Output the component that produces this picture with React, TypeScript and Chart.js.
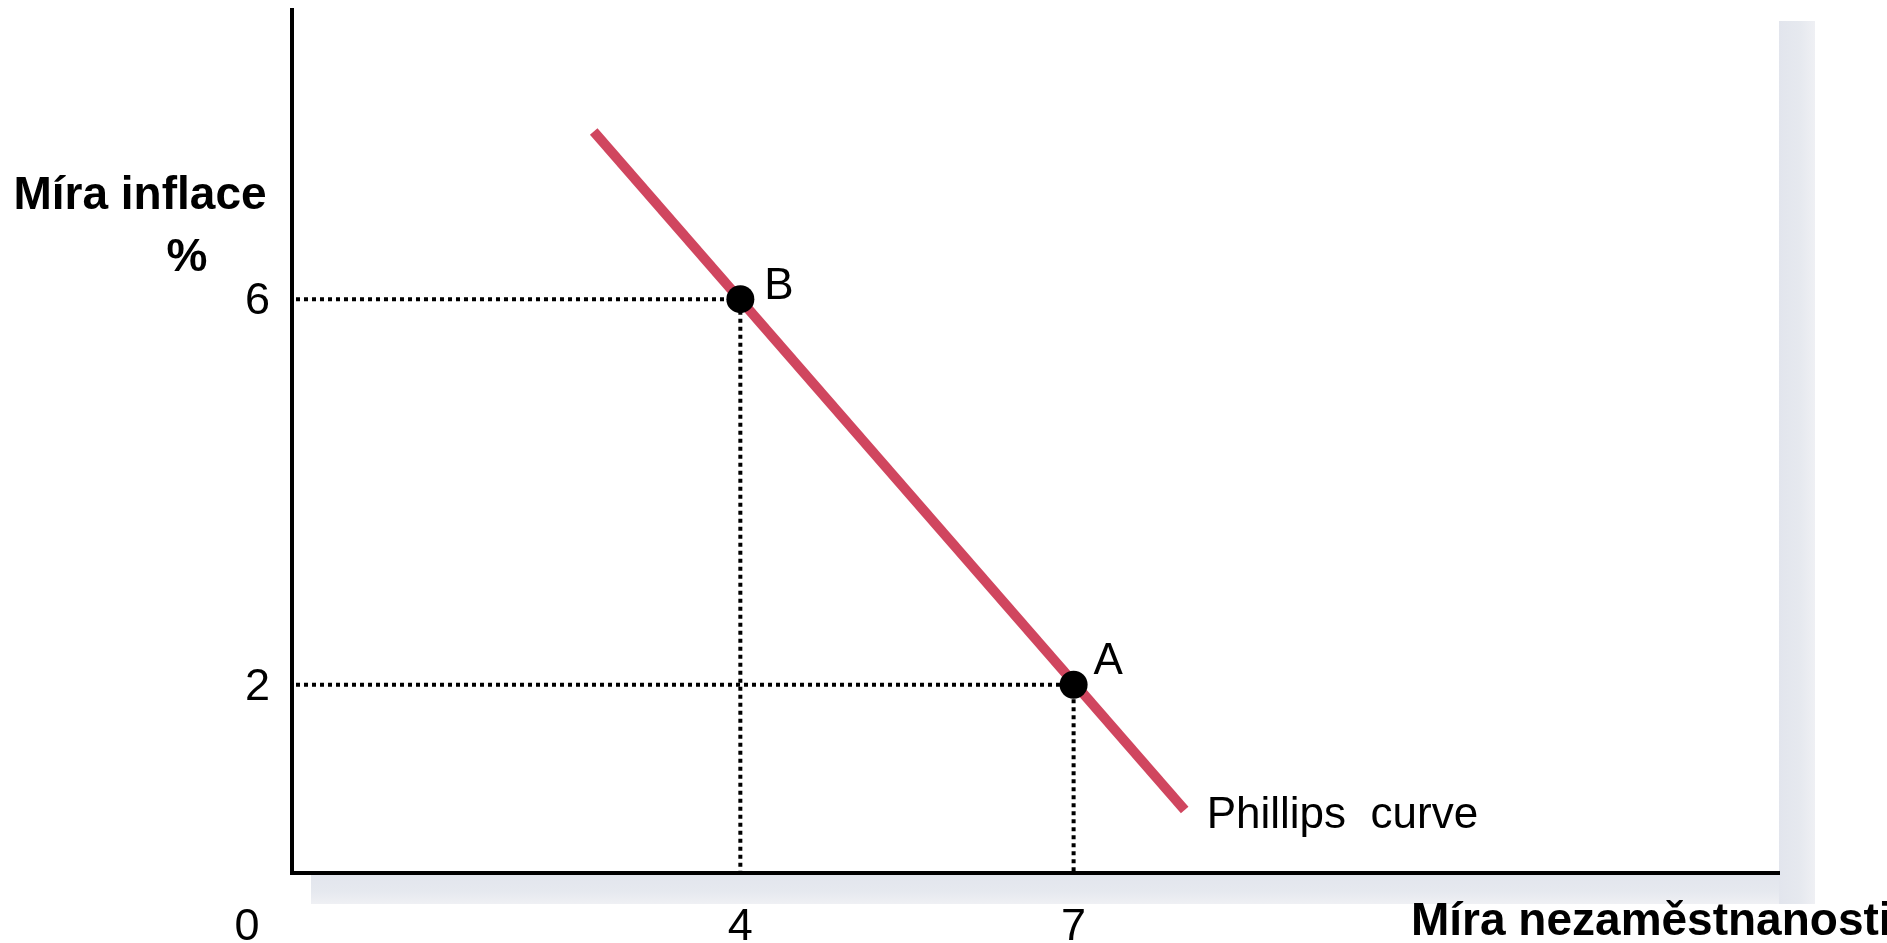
import React, { useEffect, useRef } from "react";
import { Chart, registerables } from "chart.js";

Chart.register(...registerables);

// ---- data ----
const curveX = [2.68, 8.0];
const curveY = [7.74, 0.7];
const pointNames = ["B", "A"];
const pointX = [4, 7];
const pointY = [6, 2];
const xTickValues = [4, 7];
const yTickValues = [2, 6];
const originLabel = "0";
const yTitleLines = ["Míra inflace", "%"];
const xTitle = "Míra nezaměstnanosti";
const curveLabel = "Phillips  curve";

const X_MIN = -0.036;
const X_MAX = 13.35;
const Y_MIN = 0.047;
const Y_MAX = 9.0;

const FONT = '"Liberation Sans", Arial, sans-serif';

const overlayPlugin = {
  id: "overlay",
  beforeDraw(chart: any) {
    const { ctx, chartArea: a } = chart;
    ctx.save();
    const gR = ctx.createLinearGradient(a.right, 0, a.right + 36, 0);
    gR.addColorStop(0, "#e2e5ed");
    gR.addColorStop(0.6, "#e6e9ef");
    gR.addColorStop(1, "#eff0f4");
    ctx.fillStyle = gR;
    ctx.fillRect(a.right, a.top + 11, 36, a.bottom - a.top - 11 + 31);
    const gB = ctx.createLinearGradient(0, a.bottom, 0, a.bottom + 31);
    gB.addColorStop(0, "#e2e5ed");
    gB.addColorStop(0.6, "#e6e9ef");
    gB.addColorStop(1, "#eff0f4");
    ctx.fillStyle = gB;
    ctx.fillRect(a.left + 19, a.bottom, a.right - a.left - 19, 31);
    ctx.restore();
  },
  afterDraw(chart: any) {
    const { ctx, chartArea: a, scales } = chart;
    const xs = scales.x;
    const ys = scales.y;
    ctx.save();
    ctx.fillStyle = "#000";
    ctx.font = `45px ${FONT}`;
    ctx.textBaseline = "alphabetic";
    ctx.textAlign = "center";
    xTickValues.forEach((v) => {
      ctx.fillText(String(v), xs.getPixelForValue(v), a.bottom + 67);
    });
    ctx.fillText(originLabel, a.left - 45, a.bottom + 67);
    ctx.textAlign = "right";
    yTickValues.forEach((v) => {
      ctx.fillText(String(v), a.left - 22, ys.getPixelForValue(v) + 15);
    });
    ctx.font = `44px ${FONT}`;
    ctx.textAlign = "left";
    const offs = [
      [24, 0],
      [20, -11],
    ];
    pointNames.forEach((n, i) => {
      const px = xs.getPixelForValue(pointX[i]);
      const py = ys.getPixelForValue(pointY[i]);
      ctx.fillText(n, px + offs[i][0], py + offs[i][1]);
    });
    const ex = xs.getPixelForValue(curveX[1]);
    const ey = ys.getPixelForValue(curveY[1]);
    ctx.fillText(curveLabel, ex + 22, ey + 18);
    ctx.font = `bold 46px ${FONT}`;
    ctx.textAlign = "center";
    ctx.fillText(yTitleLines[0], 140, 209);
    ctx.fillText(yTitleLines[1], 187, 271);
    ctx.font = `bold 46px ${FONT}`;
    ctx.textAlign = "left";
    ctx.fillText(xTitle, 1411, 935);
    ctx.restore();
  },
};

export default function App() {
  const ref = useRef<HTMLCanvasElement | null>(null);
  useEffect(() => {
    if (!ref.current) return;
    const guides = pointX.map((x, i) => ({
      data: [
        { x: 0, y: pointY[i] },
        { x, y: pointY[i] },
        { x, y: Y_MIN },
      ],
      showLine: true,
      borderColor: "#000",
      borderWidth: 4,
      borderDash: [4, 4],
      pointRadius: 0,
      order: 3,
    }));
    const chart = new Chart(ref.current, {
      type: "scatter",
      data: {
        datasets: [
          {
            data: pointX.map((x, i) => ({ x, y: pointY[i] })),
            showLine: false,
            pointRadius: 14,
            pointBackgroundColor: "#000",
            pointBorderColor: "#000",
            pointBorderWidth: 0,
            order: 0,
          },
          {
            data: curveX.map((x, i) => ({ x, y: curveY[i] })),
            showLine: true,
            borderColor: "#d0465f",
            borderWidth: 10,
            pointRadius: 0,
            order: 1,
          },
          ...guides,
        ] as any,
      },
      options: {
        animation: false,
        responsive: false,
        clip: false as any,
        layout: { autoPadding: false, padding: { left: 284, right: 108, top: 10, bottom: 62 } },
        plugins: {
          legend: { display: false },
          tooltip: { enabled: false },
        },
        scales: {
          x: {
            type: "linear",
            min: X_MIN,
            max: X_MAX,
            grid: { display: false },
            ticks: { display: false },
            border: { display: true, color: "#000", width: 4 },
          },
          y: {
            type: "linear",
            min: Y_MIN,
            max: Y_MAX,
            grid: { display: false },
            ticks: { display: false },
            border: { display: true, color: "#000", width: 4 },
          },
        },
      },
      plugins: [overlayPlugin],
    });
    return () => chart.destroy();
  }, []);
  return (
    <div style={{ position: "fixed", left: 0, top: 0, width: 1887, height: 943, background: "#fff" }}>
      <canvas ref={ref} width={1887} height={943} style={{ width: 1887, height: 943 }} />
    </div>
  );
}
